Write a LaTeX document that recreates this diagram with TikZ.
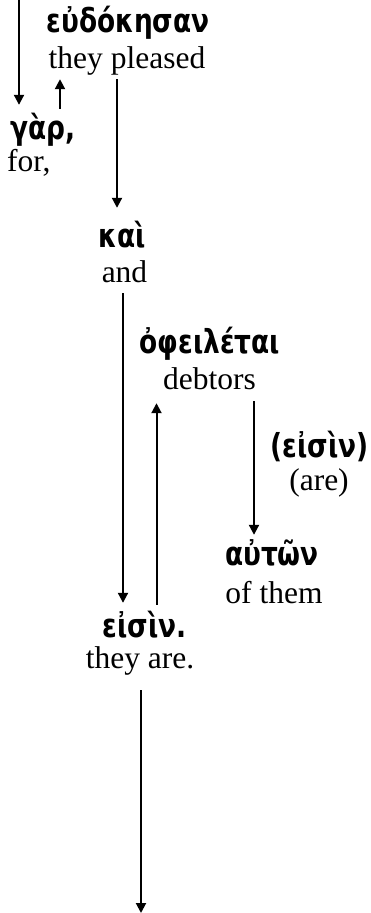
\documentclass[tikz,border=0pt]{standalone}
\usepackage{fontspec}
\setmainfont{Liberation Serif}
\newfontfamily\grfont[FakeStretch=0.8]{DejaVu Sans Bold}
\usetikzlibrary{arrows.meta,calc}
\tikzset{
  gr/.style={anchor=base,inner sep=0pt,font=\grfont\fontsize{33}{33}\selectfont,text height=20pt,text depth=5pt},
  en/.style={anchor=base,inner sep=0pt,font=\fontsize{31.5}{31.5}\selectfont,text height=20pt,text depth=5pt},
  arr/.style={line width=2pt,-{Triangle[length=10pt,width=10pt]}}
}
\begin{document}
\begin{tikzpicture}[x=1pt,y=-1pt]
\useasboundingbox (0,0) rectangle (371,913);
% words
\node[gr] (g1) at (128,32) {εὐδόκησαν};
\node[en] (e1) at (127,68) {they pleased};
\node[gr,anchor=base west] (g2) at (10,139) {γὰρ,};
\node[en,anchor=base west] (e2) at (7,171) {for,};
\node[gr] (g3) at (122,247) {καὶ};
\node[en] (e3) at (124.5,282) {and};
\node[gr] (g4) at (210,353) {ὀφειλέται};
\node[en] (e4) at (209.5,389) {debtors};
\node[gr] (g5) at (319.5,457) {(εἰσὶν)};
\node[en] (e5) at (319,490) {(are)};
\node[gr] (g6) at (272,565) {αὐτῶν};
\node[en] (e6) at (274,603) {of them};
\node[gr] (g7) at (144.5,637) {εἰσὶν.};
\node[en] (e7) at (140,668) {they are.};
% helper x positions / free ends
\coordinate (top) at (19,-1);
\coordinate (x60) at (60,0);
\coordinate (x117) at (117,0);
\coordinate (x123) at (123,0);
\coordinate (x156) at (156.5,0);
\coordinate (x254) at (254,0);
\coordinate (bot) at (141,913);
% connectors
\draw[arr] (top) -- ($(g2.north -| top)+(0,-14)$);
\draw[arr] ($(g2.north -| x60)+(0,-10)$) -- ($(e1.south -| x60)+(0,6)$);
\draw[arr] ($(e1.south -| x117)+(0,6)$) -- ($(g3.north -| x117)+(0,-19)$);
\draw[arr] ($(e3.south -| x123)+(0,6)$) -- ($(g7.north -| x123)+(0,-14)$);
\draw[arr] ($(g7.north -| x156)+(0,-12)$) -- ($(e4.south -| x156)+(0,9)$);
\draw[arr] ($(e4.south -| x254)+(0,7)$) -- ($(g6.north -| x254)+(0,-10)$);
\draw[arr] ($(e7.south -| bot)+(0,17)$) -- (bot);
\end{tikzpicture}
\end{document}
